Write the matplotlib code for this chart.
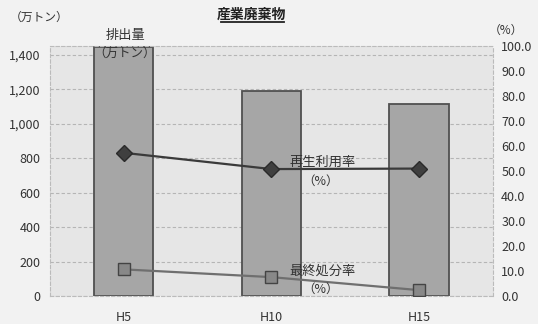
import matplotlib
matplotlib.use("Agg")
import matplotlib.pyplot as plt
from matplotlib.lines import Line2D

plt.rcParams['font.family'] = ['Noto Sans CJK JP', 'DejaVu Sans']

categories = ["H5", "H10", "H15"]
emissions = [1445, 1190, 1115]          # 排出量（万トン）
recycle_rate = [57.3, 50.8, 51.0]       # 再生利用率（%）
final_rate = [10.7, 7.6, 2.4]           # 最終処分率（%）
left_ticks = [0, 200, 400, 600, 800, 1000, 1200, 1400]
right_ticks = [0, 10, 20, 30, 40, 50, 60, 70, 80, 90, 100]

fig = plt.figure(figsize=(5.38, 3.24), dpi=100)
fig.patch.set_facecolor("#f2f2f2")
ax = fig.add_axes([0.093, 0.086, 0.823, 0.772])
ax.set_facecolor("#e6e6e6")

x = list(range(len(categories)))
ax.bar(x, emissions, width=0.4, color="#a6a6a6", edgecolor="#505050", linewidth=1.3, zorder=2)
ax.set_xlim(-0.5, 2.5)
ax.set_ylim(0, 1452)
ax.set_yticks(left_ticks)
ax.set_yticklabels([f"{v:,}" for v in left_ticks], fontsize=9, color="#333333")
ax.set_xticks(x)
ax.set_xticklabels(categories, fontsize=9, color="#333333")
ax.tick_params(length=0, pad=7)
ax.tick_params(axis='x', pad=11)
ax.yaxis.grid(True, linestyle=(0, (3, 2)), color="#b5b5b5", linewidth=0.8, zorder=0)
ax.set_axisbelow(True)
for s in ax.spines.values():
    s.set_linestyle((0, (3, 2)))
    s.set_color("#bbbbbb")
    s.set_linewidth(0.8)

ax2 = ax.twinx()
ax2.set_ylim(0, 100)
ax2.set_yticks(right_ticks)
ax2.set_yticklabels([f"{v:.1f}" for v in right_ticks], fontsize=9, color="#333333")
ax2.tick_params(length=0, pad=6)
for s in ax2.spines.values():
    s.set_visible(False)
ax2.plot(x, recycle_rate, color="#3a3a3a", linewidth=1.6, marker="D", markersize=8.5,
         markerfacecolor="#3f3f3f", markeredgecolor="#2a2a2a", zorder=3)
ax2.plot(x, final_rate, color="#6f6f6f", linewidth=1.6, marker="s", markersize=8.5,
         markerfacecolor="#888888", markeredgecolor="#444444", zorder=3)

# axis unit labels
fig.text(0.018, 0.945, "（万トン）", fontsize=8.5, color="#333333", ha="left", va="center")
fig.text(0.908, 0.905, "（%）", fontsize=8.5, color="#333333", ha="left", va="center")

# title with underline
fig.text(0.468, 0.955, "産業廃棄物", fontsize=10, fontweight="bold", color="#222222",
         ha="center", va="center")
fig.add_artist(Line2D([0.411, 0.527], [0.931, 0.931], transform=fig.transFigure,
                      color="#222222", linewidth=1.3))

# series annotations
fig.text(126/538, 1-36/324, "排出量", fontsize=9.5, color="#333333", ha="center", va="center")
fig.text(125/538, 1-53/324, "（万トン）", fontsize=9, color="#333333", ha="center", va="center")
fig.text(323/538, 1-162/324, "再生利用率", fontsize=9.5, color="#333333", ha="center", va="center")
fig.text(321/538, 1-181/324, "（%）", fontsize=9, color="#333333", ha="center", va="center")
fig.text(323/538, 1-271/324, "最終処分率", fontsize=9.5, color="#333333", ha="center", va="center")
fig.text(321/538, 1-289/324, "（%）", fontsize=9, color="#333333", ha="center", va="center")

fig.savefig("out.png", dpi=100, facecolor=fig.get_facecolor())
